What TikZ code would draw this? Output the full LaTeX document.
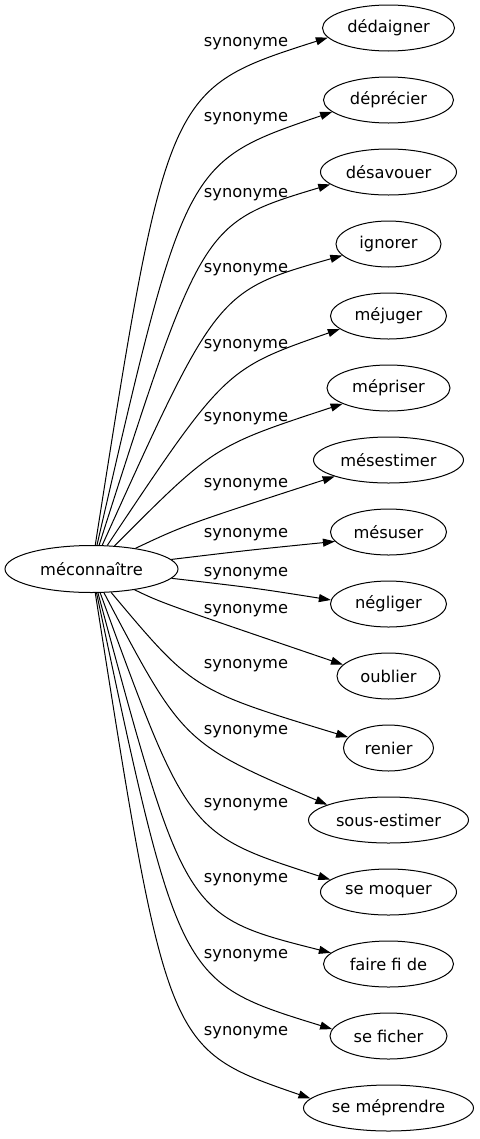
\documentclass[tikz,border=0pt]{standalone}
\usepackage{fontspec}
\setmainfont{DejaVu Sans}
\usetikzlibrary{shapes.geometric, arrows.meta}
\tikzset{
    word/.style={draw, ellipse, line width=0.75pt, inner sep=0pt, minimum height=34.5pt, font=\fontsize{12.2}{14}\selectfont},
    lbl/.style={inner sep=0pt, font=\fontsize{12.2}{14}\selectfont},
    arrow/.style={line width=0.75pt, -{Triangle[length=9pt, width=6pt]}}
}

\begin{document}
\begin{tikzpicture}[x=0.75pt, y=0.75pt, node distance=54pt]
\useasboundingbox (0,0) rectangle (479,-1139);
\node[word, minimum width=129.75pt, minimum height=35.25pt] (mec) at (91.5,-569) {méconnaître};
\node[word, minimum width=99pt] (dedaigner) at (388.5,-28) {dédaigner};
\node[word, minimum width=97.5pt, below of=dedaigner] (deprecier) {déprécier};
\node[word, minimum width=102pt, below of=deprecier] (desavouer) {désavouer};
\node[word, minimum width=78.75pt, below of=desavouer] (ignorer) {ignorer};
\node[word, minimum width=87pt, below of=ignorer] (mejuger) {méjuger};
\node[word, minimum width=92.25pt, below of=mejuger] (mepriser) {mépriser};
\node[word, minimum width=112.5pt, below of=mepriser] (mesestimer) {mésestimer};
\node[word, minimum width=87pt, below of=mesestimer] (mesuser) {mésuser};
\node[word, minimum width=87pt, below of=mesuser] (negliger) {négliger};
\node[word, minimum width=77.25pt, below of=negliger] (oublier) {oublier};
\node[word, minimum width=67.5pt, below of=oublier] (renier) {renier};
\node[word, minimum width=120pt, below of=renier] (sousestimer) {sous-estimer};
\node[word, minimum width=102pt, below of=sousestimer] (semoquer) {se moquer};
\node[word, minimum width=97.5pt, below of=semoquer] (fairefide) {faire fi de};
\node[word, minimum width=87.75pt, below of=fairefide] (seficher) {se ficher};
\node[word, minimum width=127.5pt, below of=seficher] (semeprendre) {se méprendre};
% edge labels
\node[lbl] (s1) at (246,-44) {synonyme};
\node[lbl] (s2) at (246,-119) {synonyme};
\node[lbl] (s3) at (246,-195) {synonyme};
\node[lbl] (s4) at (246,-270) {synonyme};
\node[lbl] (s5) at (246,-346) {synonyme};
\node[lbl] (s6) at (246,-419) {synonyme};
\node[lbl] (s7) at (246,-485) {synonyme};
\node[lbl] (s8) at (246,-535) {synonyme};
\node[lbl] (s9) at (246,-574) {synonyme};
\node[lbl] (s10) at (246,-611) {synonyme};
\node[lbl] (s11) at (246,-666) {synonyme};
\node[lbl] (s12) at (246,-732) {synonyme};
\node[lbl] (s13) at (246,-805) {synonyme};
\node[lbl] (s14) at (246,-880) {synonyme};
\node[lbl] (s15) at (246,-956) {synonyme};
\node[lbl] (s16) at (246,-1033) {synonyme};
% edges
\draw[arrow] (mec) .. controls (167,-89) .. (dedaigner.189);
\draw[arrow] (mec) .. controls (185,-162) .. (deprecier.192);
\draw[arrow] (mec) .. controls (202,-223) .. (desavouer.192);
\draw[arrow] (mec) .. controls (217,-291) .. (ignorer.194);
\draw[arrow] (mec) .. controls (225,-369) .. (mejuger.195);
\draw[arrow] (mec) .. controls (214,-446) .. (mepriser.199);
\draw[arrow] (mec) .. controls (185,-525) .. (mesestimer.197);
\draw[arrow] (mec) .. controls (250,-550) .. (mesuser.190);
\draw[arrow] (mec) .. controls (255,-588) .. (negliger.176);
\draw[arrow] (mec) .. controls (162,-603) .. (oublier.166);
\draw[arrow] (mec) .. controls (193,-690) .. (renier.165);
\draw[arrow] (mec) .. controls (183,-743) .. (sousestimer.166);
\draw[arrow] (mec) .. controls (188,-834) .. (semoquer.168);
\draw[arrow] (mec) .. controls (185,-916) .. (fairefide.169);
\draw[arrow] (mec) .. controls (179,-982) .. (seficher.173);
\draw[arrow] (mec) .. controls (167,-1049) .. (semeprendre.173);
\end{tikzpicture}
\end{document}
